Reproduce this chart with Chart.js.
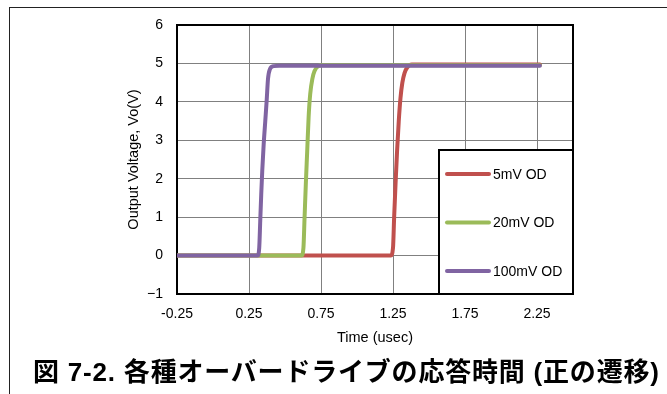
<!DOCTYPE html>
<html>
<head>
<meta charset="utf-8">
<script src="https://cdn.jsdelivr.net/npm/chart.js@4.4.1/dist/chart.umd.min.js"></script>
<style>
  html, body { margin: 0; padding: 0; background: #fff; }
  #wrap { position: relative; width: 667px; height: 394px; overflow: hidden; }
  #frame { position: absolute; left: 9px; top: 7px; right: 0; bottom: 0;
           border-top: 1px solid #222; border-left: 1px solid #222; }
  #caption { position: absolute; left: 33px; top: 351px; white-space: nowrap;
             font-family: "Liberation Sans", "Noto Sans CJK JP", sans-serif;
             font-weight: bold; font-size: 26px; letter-spacing: 0.8px; color: #000; }
  canvas { position: absolute; left: 0; top: 0; }
</style>
</head>
<body>
<div id="wrap">
  <div id="frame"></div>
  <canvas id="chart" width="667" height="394"></canvas>
  <div id="caption">図 7-2. 各種オーバードライブの応答時間 (正の遷移)</div>
</div>
<script>
// 軸の目盛り
const xTicks = [-0.25, 0.25, 0.75, 1.25, 1.75, 2.25, 2.5];
const yMin = -1, yMax = 6;

// 系列名と色
const seriesLabels = ['5mV OD', '20mV OD', '100mV OD'];
const seriesColors = ['#c0504d', '#9bbb59', '#8064a2'];

// 5mV OD
const timeRed = [-0.25, 1.235, 1.25, 1.258, 1.268, 1.278, 1.29, 1.302, 1.315, 1.33, 1.35, 1.38, 2.27];
const voltRed = [0, 0, 0.2, 1.0, 1.9, 2.7, 3.5, 4.1, 4.5, 4.75, 4.9, 4.97, 4.97];

// 20mV OD
const timeGreen = [-0.25, 0.615, 0.628, 0.636, 0.645, 0.654, 0.664, 0.675, 0.69, 0.705, 0.73, 0.76, 2.27];
const voltGreen = [0, 0, 0.2, 1.0, 1.9, 2.7, 3.6, 4.2, 4.6, 4.8, 4.93, 4.95, 4.95];

// 100mV OD
const timePurple = [-0.25, 0.31, 0.321, 0.328, 0.335, 0.342, 0.352, 0.363, 0.373, 0.382, 0.395, 0.42, 0.46, 2.27];
const voltPurple = [0, 0, 0.2, 0.9, 1.6, 2.2, 2.9, 3.5, 4.05, 4.6, 4.85, 4.93, 4.94, 4.94];

function toPoints(xs, ys) {
  return xs.map((x, i) => ({ x: x, y: ys[i] }));
}

const allSeries = [
  toPoints(timeRed, voltRed),
  toPoints(timeGreen, voltGreen),
  toPoints(timePurple, voltPurple)
];

const FONT = '"Liberation Sans", Arial, sans-serif';

// プロット枠と凡例ボックス
const framePlugin = {
  id: 'framePlugin',
  beforeDatasetsDraw(chart) {
    const { ctx, chartArea: a } = chart;
    ctx.save();
    ctx.strokeStyle = '#000';
    ctx.lineWidth = 2;
    ctx.strokeRect(a.left, a.top, a.right - a.left, a.bottom - a.top);
    ctx.restore();
  },
  afterDatasetsDraw(chart) {
    const { ctx, chartArea: a } = chart;
    const bx = 439, by = 150;
    ctx.save();
    ctx.fillStyle = '#fff';
    ctx.fillRect(bx, by, a.right - bx, a.bottom - by);
    ctx.strokeStyle = '#000';
    ctx.lineWidth = 2;
    ctx.strokeRect(bx, by, a.right - bx, a.bottom - by);
    ctx.font = '14px ' + FONT;
    ctx.textBaseline = 'middle';
    ctx.textAlign = 'left';
    seriesLabels.forEach((label, i) => {
      const y = 174 + i * 48.5;
      ctx.strokeStyle = seriesColors[i];
      ctx.lineWidth = 4;
      ctx.lineCap = 'round';
      ctx.beginPath();
      ctx.moveTo(447, y);
      ctx.lineTo(489, y);
      ctx.stroke();
      ctx.fillStyle = '#000';
      ctx.fillText(label, 493, y + 1);
    });
    ctx.restore();
  }
};

const ctx = document.getElementById('chart').getContext('2d');
new Chart(ctx, {
  type: 'line',
  data: {
    datasets: seriesLabels.map((label, i) => ({
      label: label,
      data: allSeries[i],
      borderColor: seriesColors[i],
      backgroundColor: seriesColors[i],
      borderWidth: 4,
      pointRadius: 0,
      cubicInterpolationMode: 'monotone',
      borderCapStyle: 'round',
      borderJoinStyle: 'round',
      order: 3 - i  // 紫を一番上に描く
    }))
  },
  options: {
    responsive: false,
    animation: false,
    events: [],
    layout: { padding: { left: 0, top: 25, right: 94, bottom: 0 } },
    plugins: {
      legend: { display: false },
      tooltip: { enabled: false }
    },
    scales: {
      x: {
        type: 'linear',
        min: -0.25,
        max: 2.5,
        afterBuildTicks: (scale) => {
          scale.ticks = xTicks.map(v => ({ value: v }));
        },
        afterFit: (scale) => { scale.height = 100; },
        grid: { color: '#808080', lineWidth: 1, drawTicks: false },
        border: { display: false },
        ticks: {
          padding: 12,
          color: '#000',
          maxRotation: 0,
          autoSkip: false,
          font: { family: FONT, size: 14 },
          callback: (v) => (v === 2.5 ? '' : v.toFixed(2))
        },
        title: {
          display: true,
          text: 'Time (usec)',
          color: '#000',
          font: { family: FONT, size: 14.5 },
          padding: { top: 0, bottom: 47 }
        }
      },
      y: {
        min: yMin,
        max: yMax,
        afterFit: (scale) => { scale.width = 177; },
        grid: { color: '#808080', lineWidth: 1, drawTicks: false },
        border: { display: false },
        ticks: {
          stepSize: 1,
          padding: 14,
          color: '#000',
          font: { family: FONT, size: 14 },
          callback: (v) => (v < 0 ? '\u2212' + Math.abs(v) : String(v))
        },
        title: {
          display: true,
          text: 'Output Voltage, Vo(V)',
          color: '#000',
          font: { family: FONT, size: 14.5 },
          padding: { top: 125, bottom: 0 }
        }
      }
    }
  },
  plugins: [framePlugin]
});
</script>
</body>
</html>
